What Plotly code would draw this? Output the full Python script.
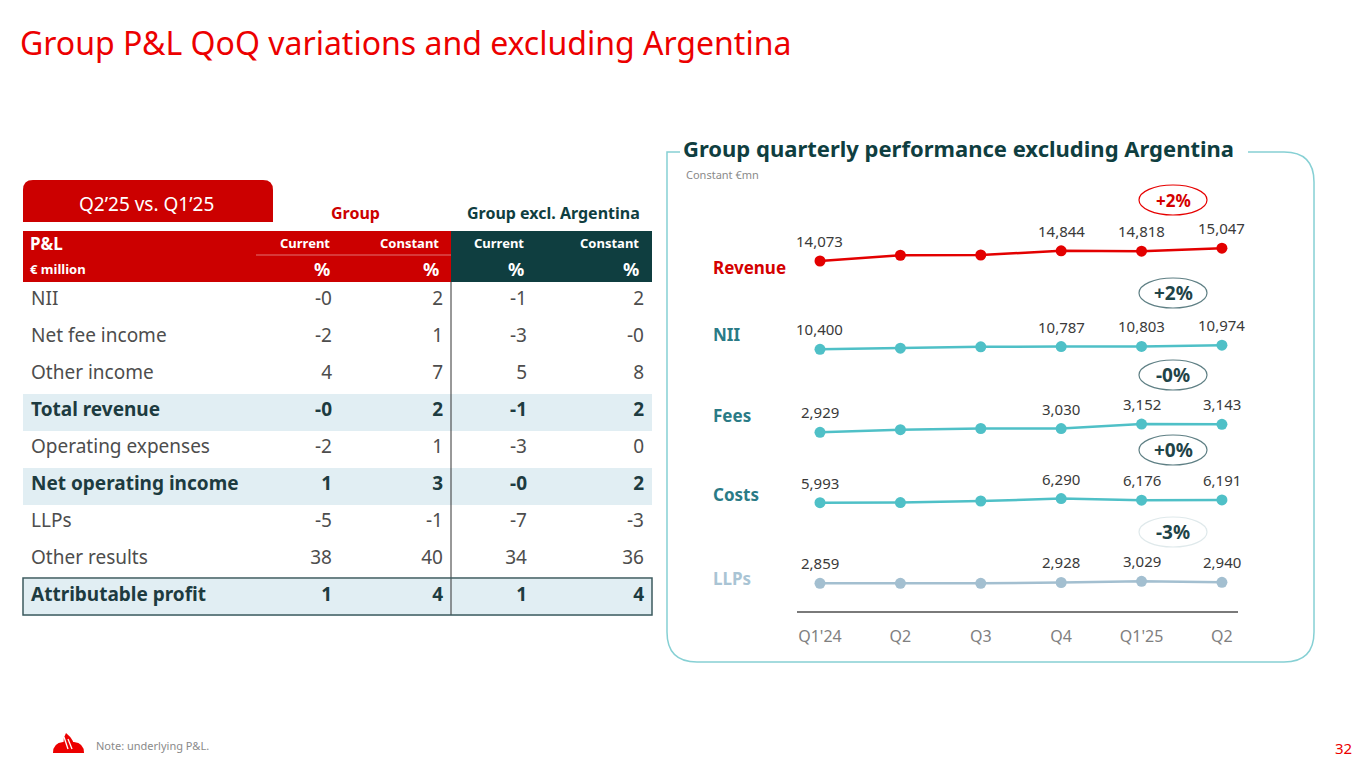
import plotly.graph_objects as go

# ---- table data (Q2'25 vs Q1'25, %) ----
pl_rows = ["NII", "Net fee income", "Other income", "Total revenue", "Operating expenses",
           "Net operating income", "LLPs", "Other results", "Attributable profit"]
group_current = ["-0", "-2", "4", "-0", "-2", "1", "-5", "38", "1"]
group_constant = ["2", "1", "7", "2", "1", "3", "-1", "40", "4"]
excl_current = ["-1", "-3", "5", "-1", "-3", "-0", "-7", "34", "1"]
excl_constant = ["2", "-0", "8", "2", "0", "2", "-3", "36", "4"]
highlight = [False, False, False, True, False, True, False, False, True]
head_top = ["P&L", "Current", "Constant", "Current", "Constant"]
head_bottom = ["€ million", "%", "%", "%", "%"]

# ---- quarterly chart data (constant EUR mn) ----
quarters = ["Q1'24", "Q2", "Q3", "Q4", "Q1'25", "Q2"]
revenue = [14073, 14510, 14530, 14844, 14818, 15047]
nii = [10400, 10560, 10740, 10787, 10803, 10974]
fees = [2929, 3000, 3032, 3030, 3152, 3143]
costs = [5993, 6000, 6115, 6290, 6176, 6191]
llps = [2859, 2860, 2858, 2928, 3029, 2940]
labelled = [0, 3, 4, 5]
changes = ["+2%", "+2%", "-0%", "+0%", "-3%"]

# page body has an 8px margin, so the figure is placed inside it
OFF = 8
W, H = 1365 - OFF, 768 - OFF
FONT = "Noto Sans"
RED = "#cc0000"
BRIGHT_RED = "#ec0000"
TEAL_DARK = "#0f3e40"
TEAL = "#4fc0c7"


def X(px):
    return (px - OFF) / W


def Y(py):
    return 1 - (py - OFF) / H


def P(x, y):
    return f"{X(x):.5f},{Y(y):.5f}"


fig = go.Figure()
annotations = []
shapes = []

# ---------------- table ----------------
NOLINE = dict(width=0, color="rgba(0,0,0,0)")
ALIGN = ["left", "right", "right", "right", "right"]
WIDTHS = [232, 85, 111, 84, 117]
EMPTY_HEAD = 15  # plotly keeps a small strip for a table without header

body_cols = [pl_rows, group_current, group_constant, excl_current, excl_constant]
body_fill = ["#e1eef3" if h else "white" for h in highlight]
plain = [[v if not h else "" for v, h in zip(col, highlight)] for col in body_cols]
bold = [[v if h else "" for v, h in zip(col, highlight)] for col in body_cols]
BODY_DOMAIN = dict(x=[X(23), X(652)], y=[Y(660), Y(282 - EMPTY_HEAD)])
HEAD = dict(fill_color="rgba(0,0,0,0)", line=NOLINE)

# regular rows (and the row fills)
fig.add_trace(go.Table(
    domain=BODY_DOMAIN, columnwidth=WIDTHS, header=HEAD,
    cells=dict(values=plain, align=ALIGN, fill_color=[body_fill] * 5, line=NOLINE,
               font=dict(family=FONT, size=19, color="#4d4d4d"), height=37),
))
# bold highlighted rows on top
fig.add_trace(go.Table(
    domain=BODY_DOMAIN, columnwidth=WIDTHS, header=HEAD,
    cells=dict(values=bold, align=ALIGN, fill_color="rgba(0,0,0,0)", line=NOLINE,
               font=dict(family=FONT, size=19, color="#1d3b40", weight="bold"), height=37),
))

# two header rows: red for Group, dark teal for Group excl. Argentina
shapes.append(dict(type="rect", xref="paper", yref="paper", x0=X(23), x1=X(451), y0=Y(282), y1=Y(231),
                   fillcolor=RED, line=dict(width=0)))
shapes.append(dict(type="rect", xref="paper", yref="paper", x0=X(451), x1=X(652), y0=Y(282), y1=Y(231),
                   fillcolor=TEAL_DARK, line=dict(width=0)))
shapes.append(dict(type="line", xref="paper", yref="paper", x0=X(256), x1=X(451), y0=Y(255), y1=Y(255),
                   line=dict(color="rgba(255,255,255,0.45)", width=1)))
col_right = [None, 332, 441, 526, 641]
for c in range(5):
    xa = "left" if c == 0 else "right"
    xp = 28 if c == 0 else col_right[c]
    annotations.append(dict(x=X(xp), y=Y(243), xref="paper", yref="paper", xanchor=xa, yanchor="middle",
                            text=f"<b>{head_top[c]}</b>", showarrow=False,
                            font=dict(family=FONT, size=17 if c == 0 else 13, color="white")))
    annotations.append(dict(x=X(xp), y=Y(269), xref="paper", yref="paper", xanchor=xa, yanchor="middle",
                            text=f"<b>{head_bottom[c]}</b>", showarrow=False,
                            font=dict(family=FONT, size=13 if c == 0 else 18, color="white")))

# ---------------- quarterly lines ----------------
x_idx = list(range(len(quarters)))
panels = [
    # name, values, line colour, label colour, band top/bottom px, px of first value, units per px,
    # name label y, badge y, badge line, badge text colour
    ("Revenue", revenue, "#e30000", "#d40000", 200, 290, 261.0, 76, 268, 200, "#e60000", "#d40000"),
    ("NII", nii, TEAL, "#2a7b86", 300, 372, 349.3, 140, 334, 293, "#5e7f84", "#1f4448"),
    ("Fees", fees, TEAL, "#2a7b86", 385, 460, 432.3, 27, 415, 375, "#5e7f84", "#1f4448"),
    ("Costs", costs, TEAL, "#2a7b86", 465, 540, 502.7, 72, 494, 450, "#5e7f84", "#1f4448"),
    ("LLPs", llps, "#a3bfd0", "#a9c4d4", 545, 612, 583.3, 85, 578, 532, "#dfe9eb", "#1f4448"),
]

layout_axes = {}
for i, (name, vals, lc, nc, top, bot, pref, k, ny, by, bline, btxt) in enumerate(panels):
    yname = "y" if i == 0 else f"y{i + 1}"
    axkey = "yaxis" if i == 0 else f"yaxis{i + 1}"
    r0 = vals[0] - (bot - pref) * k
    layout_axes[axkey] = dict(domain=[Y(bot), Y(top)], range=[r0, r0 + (bot - top) * k],
                              visible=False, fixedrange=True, anchor="x")
    fig.add_trace(go.Scatter(
        x=x_idx, y=vals, xaxis="x", yaxis=yname, mode="lines+markers", name=name,
        line=dict(color=lc, width=2.5), marker=dict(color=lc, size=11),
        showlegend=False, hoverinfo="skip",
    ))
    for j in labelled:
        annotations.append(dict(x=j, y=vals[j], xref="x", yref=yname, yshift=20,
                                xanchor="center", yanchor="middle",
                                text=f"{vals[j]:,}", showarrow=False,
                                font=dict(family=FONT, size=15, color="#3a3a3a")))
    annotations.append(dict(x=X(711), y=Y(ny), xref="paper", yref="paper",
                            xanchor="left", yanchor="middle",
                            text=f"<b>{name}</b>", showarrow=False,
                            font=dict(family=FONT, size=17, color=nc)))
    shapes.append(dict(type="circle", xref="paper", yref="paper",
                       x0=X(1139), x1=X(1207), y0=Y(by + 15), y1=Y(by - 15),
                       line=dict(color=bline, width=1.2)))
    annotations.append(dict(x=X(1173), y=Y(by), xref="paper", yref="paper",
                            xanchor="center", yanchor="middle",
                            text=f"<b>{changes[i]}</b>", showarrow=False,
                            font=dict(family=FONT, size=17 if i == 0 else 19, color=btxt)))

# panel frame
shapes.append(dict(type="path", xref="paper", yref="paper",
                   path=(f"M {P(680, 152)} L {P(667, 152)} L {P(667, 632)} Q {P(667, 662)} {P(697, 662)} "
                         f"L {P(1284, 662)} Q {P(1314, 662)} {P(1314, 632)} L {P(1314, 182)} "
                         f"Q {P(1314, 152)} {P(1284, 152)} L {P(1248, 152)}"),
                   line=dict(color="#86d0d4", width=1.5)))

# table tab and lines
shapes.append(dict(type="path", xref="paper", yref="paper", fillcolor=RED, line=dict(width=0),
                   path=(f"M {P(23, 222)} L {P(23, 190)} Q {P(23, 180)} {P(33, 180)} L {P(263, 180)} "
                         f"Q {P(273, 180)} {P(273, 190)} L {P(273, 222)} Z")))
shapes.append(dict(type="line", xref="paper", yref="paper", x0=X(451), x1=X(451), y0=Y(282), y1=Y(615),
                   line=dict(color="#333333", width=1)))
shapes.append(dict(type="rect", xref="paper", yref="paper", x0=X(23), x1=X(652), y0=Y(615), y1=Y(578),
                   line=dict(color="#3c5b5f", width=1.5)))

# santander flame logo
shapes.append(dict(type="path", xref="paper", yref="paper", fillcolor=BRIGHT_RED, line=dict(width=0),
                   path=f"M {P(53, 753)} Q {P(53, 743)} {P(63, 742)} L {P(74, 742)} Q {P(84, 743)} {P(84, 753)} Z"))
shapes.append(dict(type="path", xref="paper", yref="paper", fillcolor=BRIGHT_RED, line=dict(width=0),
                   path=f"M {P(66, 733)} Q {P(75, 740)} {P(74, 749)} L {P(68, 751)} Q {P(60, 743)} {P(66, 733)} Z"))
for dx in (0, 4):
    shapes.append(dict(type="line", xref="paper", yref="paper", x0=X(64 + dx), x1=X(68 + dx),
                       y0=Y(737 + dx * 0.5), y1=Y(749), line=dict(color="white", width=1.3)))

# texts
texts = [
    dict(x=X(18), y=Y(43), text="Group P&L QoQ variations and excluding Argentina",
         font=dict(family=FONT, size=32, color=BRIGHT_RED)),
    dict(x=X(146), y=Y(204), xanchor="center", text="Q2’25 vs. Q1’25",
         font=dict(family=FONT, size=19, color="white")),
    dict(x=X(355), y=Y(213), xanchor="center", text="<b>Group</b>",
         font=dict(family=FONT, size=16, color=RED)),
    dict(x=X(553), y=Y(213), xanchor="center", text="<b>Group excl. Argentina</b>",
         font=dict(family=FONT, size=16, color=TEAL_DARK)),
    dict(x=X(681), y=Y(148), text="<b>Group quarterly performance excluding Argentina</b>",
         font=dict(family=FONT, size=22, color=TEAL_DARK)),
    dict(x=X(684), y=Y(174), text="Constant €mn", font=dict(family=FONT, size=11, color="#8a8a8a")),
    dict(x=X(94), y=Y(745), text="Note: underlying P&L.", font=dict(family=FONT, size=11, color="#8a8a8a")),
    dict(x=X(1354), y=Y(748), xanchor="right", text="32", font=dict(family=FONT, size=15, color=BRIGHT_RED)),
]
for a in texts:
    a.setdefault("xanchor", "left")
    a.update(xref="paper", yref="paper", yanchor="middle", showarrow=False)
annotations += texts

fig.update_layout(
    width=W, height=H, autosize=False,
    margin=dict(l=0, r=0, t=0, b=0),
    paper_bgcolor="white", plot_bgcolor="white",
    font=dict(family=FONT),
    xaxis=dict(domain=[X(797), X(1238)], range=[-0.286, 5.2], anchor="free", position=Y(612),
               tickvals=x_idx, ticktext=quarters, showgrid=False, zeroline=False,
               showline=True, linecolor="#7a7a7a", linewidth=1.5,
               ticks="outside", ticklen=10, tickcolor="rgba(0,0,0,0)",
               tickfont=dict(family=FONT, size=16, color="#808080"), fixedrange=True),
    annotations=annotations,
    shapes=shapes,
    **layout_axes,
)

fig.write_html("out.html")
